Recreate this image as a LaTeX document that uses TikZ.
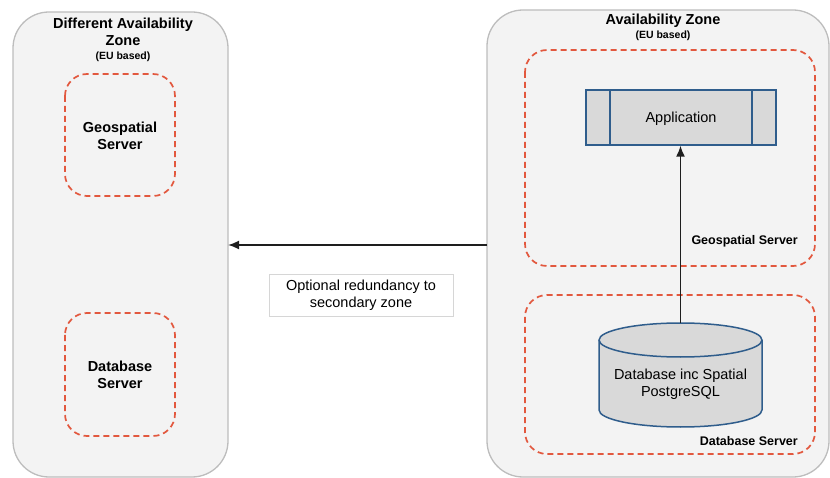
\documentclass[tikz,border=0pt]{standalone}
\usepackage{fontspec}
\setmainfont{Liberation Sans}
\usetikzlibrary{arrows.meta}
\definecolor{zonefill}{HTML}{F3F3F3}
\definecolor{zoneline}{HTML}{BDBDBD}
\definecolor{dashred}{HTML}{E2583E}
\definecolor{boxfill}{HTML}{D9D9D9}
\definecolor{boxline}{HTML}{2F5D8C}
\definecolor{arrowc}{HTML}{1E1E1E}
\definecolor{notebd}{HTML}{D6D6D6}
\tikzset{
  zone/.style={draw=zoneline,fill=zonefill,line width=1.3pt,rounded corners=36pt},
  srv/.style={draw=dashred,line width=1.7pt,dash pattern=on 6pt off 4pt,rounded corners=22pt},
  ttl/.style={font=\fontsize{14.5}{17}\selectfont\bfseries,align=center,inner sep=0pt},
  sub/.style={font=\fontsize{10.5}{12}\selectfont\bfseries,inner sep=0pt},
  lbl/.style={font=\fontsize{12.5}{14}\selectfont\bfseries,inner sep=0pt},
  txt/.style={font=\fontsize{14.5}{17}\selectfont,align=center,inner sep=0pt},
  conn/.style={draw=arrowc,line width=1.7pt,-{Latex[length=11pt,width=9pt]}},
  dbshape/.style={draw=boxline,fill=boxfill,line width=1.5pt}
}
\begin{document}
\begin{tikzpicture}[x=1pt,y=-1pt]
\useasboundingbox (0,0) rectangle (830,478);
\clip (0,0) rectangle (830,478);
% zones
\draw[zone] (13,12) rectangle (228,477);
\draw[zone] (487,10) rectangle (829,477);
\coordinate (leftedge) at (228,245);
\coordinate (rightedge) at (487,245);
% left zone titles
\node[ttl] (lt) at (123,32) {Different Availability\\Zone};
\node[sub] (ls) at (123,57) {(EU based)};
% left server boxes
\draw[srv] (65,74) rectangle (175,196);
\node[ttl] (lgeo) at (120,136) {Geospatial\\Server};
\draw[srv] (65,313) rectangle (175,436);
\node[ttl] (ldb) at (120,375) {Database\\Server};
% right zone titles
\node[ttl] (rt) at (663,21) {Availability Zone};
\node[sub] (rs) at (663,36) {(EU based)};
% right server boxes
\draw[srv] (525,50) rectangle (815,266);
\node[lbl,anchor=east] (rgeo) at (798,241) {Geospatial Server};
\draw[srv] (525,295) rectangle (815,454);
\node[lbl,anchor=east] (rdb) at (798,441) {Database Server};
% application
\node[draw=boxline,fill=boxfill,line width=1.3pt,minimum width=190pt,minimum height=55pt,inner sep=0pt] (app) at (681,117.5) {};
\draw[boxline,line width=1.3pt] (610,90) -- (610,145);
\draw[boxline,line width=1.3pt] (752,90) -- (752,145);
\node[txt] (apptxt) at (681,119) {Application};
% database cylinder
\path[dbshape] (599,340) -- (599,410) arc[start angle=180,end angle=360,x radius=81.5pt,y radius=17pt] -- (762,340) arc[start angle=0,end angle=180,x radius=81.5pt,y radius=17pt] -- cycle;
\draw[dbshape,fill=none] (599,340) arc[start angle=180,end angle=360,x radius=81.5pt,y radius=17pt];
\coordinate (dbtop) at (680.5,323);
\node[txt] (dbtxt) at (680.5,384) {Database inc Spatial\\PostgreSQL};
% arrows
\draw[conn] (dbtop) -- (app.south -| dbtop);
\draw[conn] (rightedge) -- (leftedge);
% note
\node[draw=notebd,line width=0.8pt,fill=white,txt,minimum width=184pt,minimum height=42pt] (note) at (361,295) {Optional redundancy to\\secondary zone};
\end{tikzpicture}
\end{document}
